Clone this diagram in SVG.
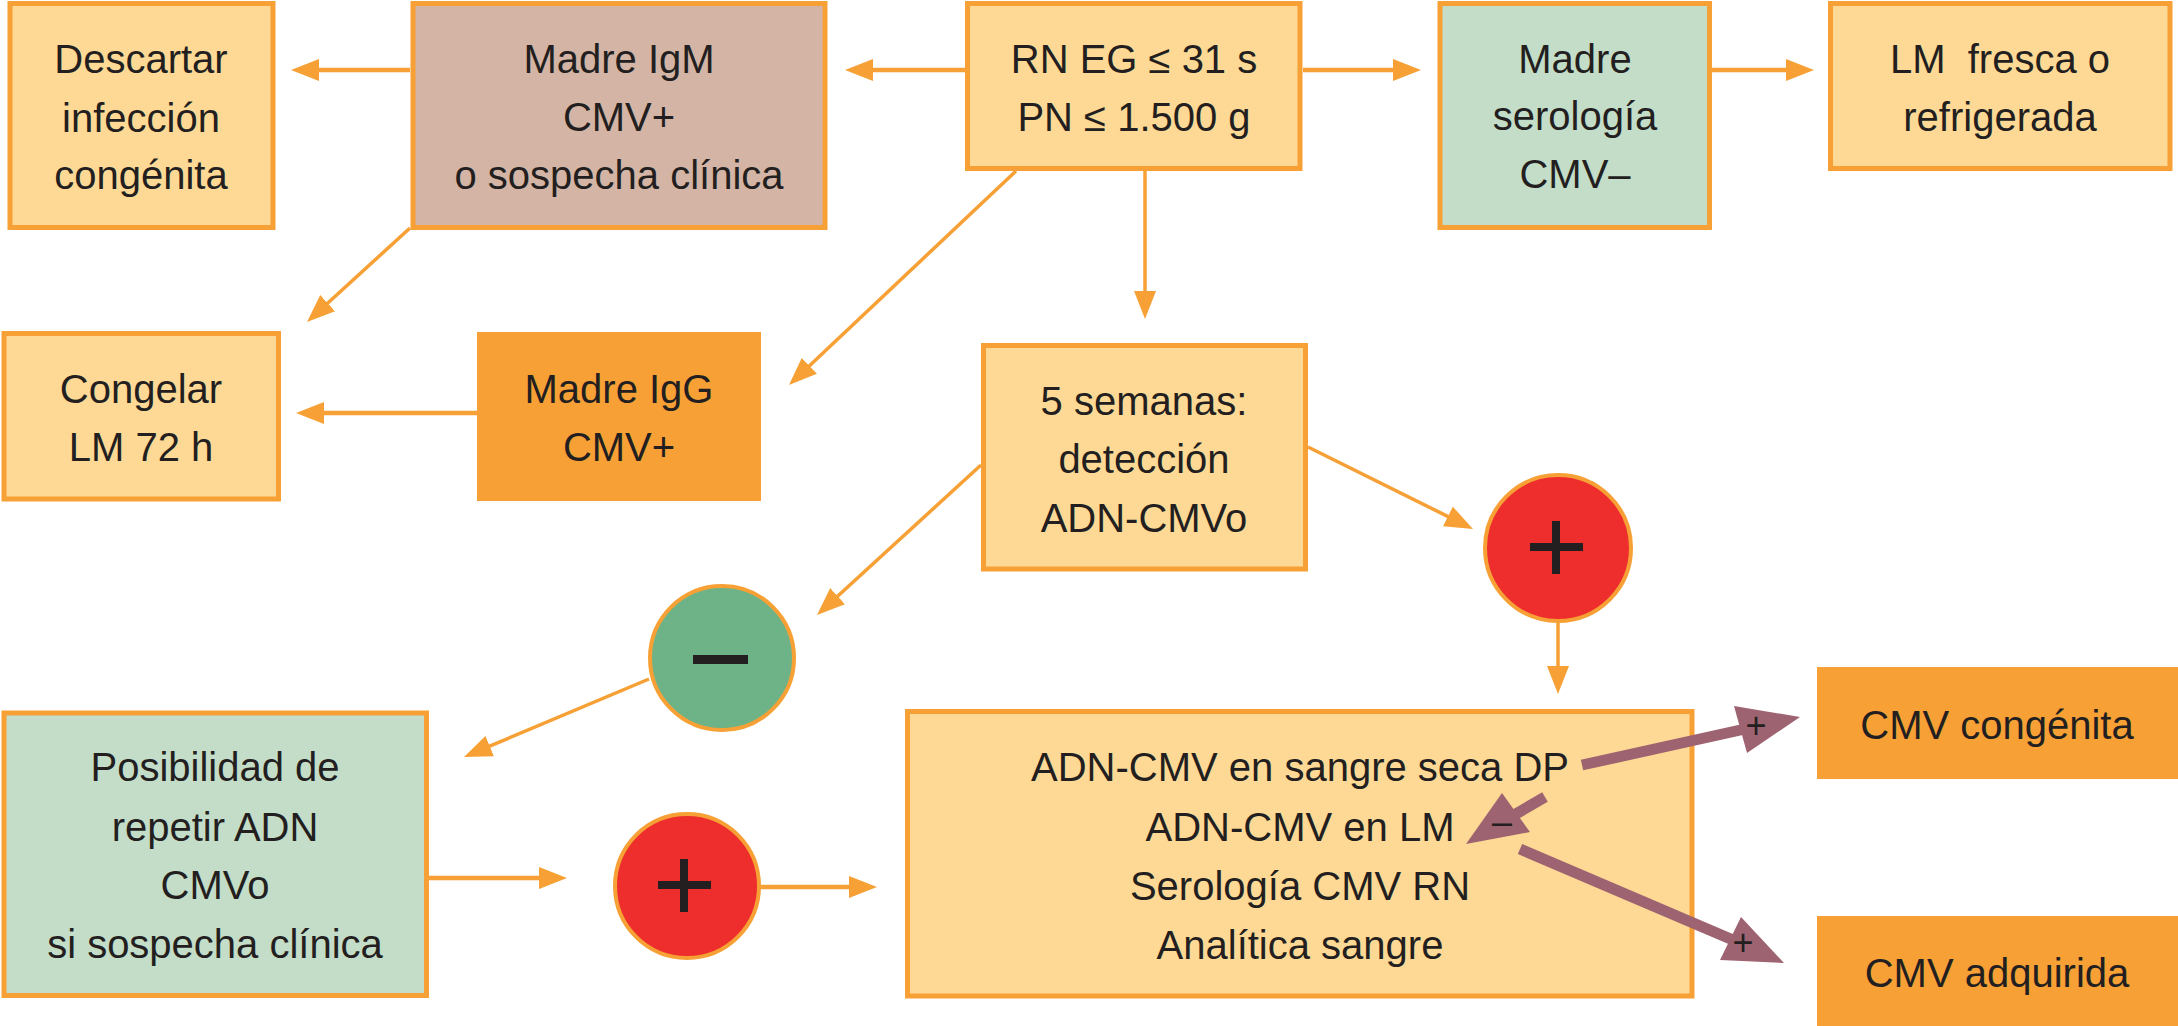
<svg xmlns="http://www.w3.org/2000/svg" width="2178" height="1026" viewBox="0 0 2178 1026">
<style>
.box{stroke:#F7A035;stroke-width:5}
.peach{fill:#FDD995}
.rose{fill:#D4B5A5}
.mint{fill:#C3DDC8}
.orange{fill:#F7A035}
.t{font-family:"Liberation Sans",Arial,sans-serif;font-size:40px;fill:#231F20;text-anchor:middle}
.s{font-family:"Liberation Sans",Arial,sans-serif;font-size:36px;fill:#231F20;text-anchor:middle}
.c{fill:none;stroke:#F7A035;stroke-width:4.5}
.d{fill:none;stroke:#F7A035;stroke-width:3.5}
.m{stroke:#9E6370;stroke-width:11;fill:none}
.mh{fill:#9E6370}
.sign{fill:#231F20}
</style>
<defs>
<marker id="ah" markerUnits="userSpaceOnUse" markerWidth="28" markerHeight="22" viewBox="0 0 28 22" refX="2" refY="11" orient="auto">
<path d="M0,0 L28,11 L0,22 z" fill="#F7A035"/>
</marker>
</defs>
<rect width="2178" height="1026" fill="#FFFFFF"/>

<g id="descartar">
<rect class="box peach" x="10" y="3.5" width="263" height="224"/>
<text class="t" x="141" y="73">Descartar</text>
<text class="t" x="141" y="132">infección</text>
<text class="t" x="141" y="189">congénita</text>
</g>
<g id="madre-igm">
<rect class="box rose" x="413" y="3.5" width="412" height="224"/>
<text class="t" x="619" y="73">Madre IgM</text>
<text class="t" x="619" y="131">CMV+</text>
<text class="t" x="619" y="189">o sospecha clínica</text>
</g>
<g id="rn">
<rect class="box peach" x="967.5" y="3.5" width="332.5" height="165"/>
<text class="t" x="1134" y="73">RN EG ≤ 31 s</text>
<text class="t" x="1134" y="131">PN ≤ 1.500 g</text>
</g>
<g id="madre-serologia">
<rect class="box mint" x="1440" y="3.5" width="269.5" height="224"/>
<text class="t" x="1575" y="73">Madre</text>
<text class="t" x="1575" y="130">serología</text>
<text class="t" x="1575" y="188">CMV–</text>
</g>
<g id="lm-fresca">
<rect class="box peach" x="1830.5" y="3.5" width="339.5" height="165"/>
<text class="t" x="2000" y="73" xml:space="preserve">LM  fresca o</text>
<text class="t" x="2000" y="131">refrigerada</text>
</g>
<g id="congelar">
<rect class="box peach" x="4" y="333.5" width="274.5" height="165.5"/>
<text class="t" x="141" y="403">Congelar</text>
<text class="t" x="141" y="461">LM 72 h</text>
</g>
<g id="madre-igg">
<rect class="orange" x="477" y="332" width="284" height="169"/>
<text class="t" x="619" y="403">Madre IgG</text>
<text class="t" x="619" y="461">CMV+</text>
</g>
<g id="cinco-semanas">
<rect class="box peach" x="983.5" y="345.5" width="322" height="223.5"/>
<text class="t" x="1144" y="415">5 semanas:</text>
<text class="t" x="1144" y="473">detección</text>
<text class="t" x="1144" y="532">ADN-CMVo</text>
</g>
<g id="circulo-mas-arriba">
<circle cx="1558" cy="548" r="73" fill="#EE2E2D" stroke="#F7A035" stroke-width="4"/>
<rect class="sign" x="1552" y="521" width="8" height="53"/>
<rect class="sign" x="1530" y="543" width="53" height="8"/>
</g>
<g id="circulo-menos">
<circle cx="722" cy="658" r="72" fill="#6DB387" stroke="#F7A035" stroke-width="4"/>
<rect class="sign" x="693" y="655" width="55" height="9"/>
</g>
<g id="posibilidad">
<rect class="box mint" x="4" y="713" width="422.5" height="282.5"/>
<text class="t" x="215" y="781">Posibilidad de</text>
<text class="t" x="215" y="841">repetir ADN</text>
<text class="t" x="215" y="899">CMVo</text>
<text class="t" x="215" y="958">si sospecha clínica</text>
</g>
<g id="circulo-mas-abajo">
<circle cx="687" cy="886" r="72" fill="#EE2E2D" stroke="#F7A035" stroke-width="4"/>
<rect class="sign" x="680" y="859" width="8" height="53"/>
<rect class="sign" x="658" y="881" width="53" height="8"/>
</g>
<g id="pruebas">
<rect class="box peach" x="907.5" y="711.5" width="784.5" height="284.5"/>
<text class="t" x="1300" y="781">ADN-CMV en sangre seca DP</text>
<text class="t" x="1300" y="841">ADN-CMV en LM</text>
<text class="t" x="1300" y="900">Serología CMV RN</text>
<text class="t" x="1300" y="959">Analítica sangre</text>
</g>
<g id="cmv-congenita">
<rect class="orange" x="1817" y="667" width="361" height="112"/>
<text class="t" x="1997" y="739">CMV congénita</text>
</g>
<g id="cmv-adquirida">
<rect class="orange" x="1817" y="916" width="361" height="110"/>
<text class="t" x="1997" y="987">CMV adquirida</text>
</g>

<g id="connectors">
<line class="c" x1="410" y1="70" x2="317" y2="70" marker-end="url(#ah)"/>
<line class="c" x1="965" y1="70" x2="871" y2="70" marker-end="url(#ah)"/>
<line class="c" x1="1303" y1="70" x2="1395" y2="70" marker-end="url(#ah)"/>
<line class="c" x1="1712" y1="70" x2="1788" y2="70" marker-end="url(#ah)"/>
<line class="d" x1="410" y1="228" x2="326.2" y2="304.5" marker-end="url(#ah)"/>
<line class="d" x1="1016" y1="171" x2="807.9" y2="367.2" marker-end="url(#ah)"/>
<line class="d" x1="1145" y1="169" x2="1145" y2="293" marker-end="url(#ah)"/>
<line class="c" x1="477" y1="413" x2="322" y2="413" marker-end="url(#ah)"/>
<line class="d" x1="981" y1="465" x2="836.2" y2="597.5" marker-end="url(#ah)"/>
<line class="d" x1="1308" y1="447" x2="1449.7" y2="517.4" marker-end="url(#ah)"/>
<line class="d" x1="649" y1="679" x2="487.9" y2="746.9" marker-end="url(#ah)"/>
<line class="c" x1="428" y1="878" x2="541" y2="878" marker-end="url(#ah)"/>
<line class="c" x1="760" y1="887" x2="851" y2="887" marker-end="url(#ah)"/>
<line class="d" x1="1558" y1="623" x2="1558" y2="668" marker-end="url(#ah)"/>

<line class="m" x1="1582" y1="765" x2="1745" y2="729"/>
<polygon class="mh" points="1734,706 1800,717 1747,753"/>
<line class="m" x1="1545" y1="797" x2="1514" y2="815"/>
<polygon class="mh" points="1502,793 1466,844 1530,832"/>
<line class="m" x1="1520" y1="849" x2="1733" y2="940"/>
<polygon class="mh" points="1741,917 1784,963 1720,960"/>
<text class="s" x="1756" y="738">+</text>
<text class="s" x="1502" y="834">–</text>
<text class="s" x="1743" y="955">+</text>
</g>
</svg>
